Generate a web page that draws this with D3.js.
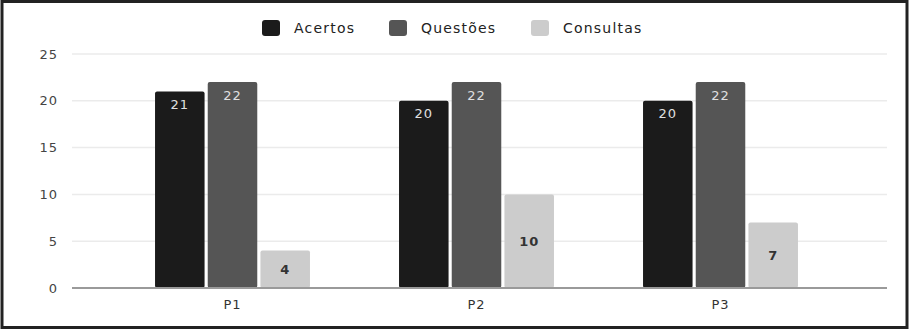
<!DOCTYPE html>
<html>
<head>
<meta charset="utf-8">
<script src="https://cdn.jsdelivr.net/npm/d3@7"></script>
<style>
  html, body { margin: 0; padding: 0; background: #fff; }
  svg { display: block; font-family: "DejaVu Sans", Roboto, sans-serif; }
</style>
</head>
<body>
<div id="chart"></div>
<script>
var categories = ["P1", "P2", "P3"];
var seriesNames = ["Acertos", "Questões", "Consultas"];
var acertos = [21, 20, 20];
var questoes = [22, 22, 22];
var consultas = [4, 10, 7];
var yTicks = [0, 5, 10, 15, 20, 25];

var colors = ["#1b1b1b", "#555555", "#cccccc"];
var labelColors = ["#e0e0e0", "#e0e0e0", "#333333"];

var width = 909, height = 330;
var margin = { top: 54, right: 22, bottom: 42, left: 72 };

var data = categories.map(function (c, i) {
    return { cat: c, values: [acertos[i], questoes[i], consultas[i]] };
});

var svg = d3.select("#chart").append("svg")
    .attr("width", width)
    .attr("height", height);

// outer frame
svg.append("rect")
    .attr("x", 2).attr("y", 1.5)
    .attr("width", width - 4).attr("height", height - 4)
    .attr("fill", "#fff")
    .attr("stroke", "#222")
    .attr("stroke-width", 3);

// bars sit a little left of the plot centre in the original
var x0 = d3.scaleBand()
    .domain(categories)
    .range([margin.left - 3, width - margin.right - 3])
    .paddingInner(0.365)
    .paddingOuter(0.3526);

var x1 = d3.scaleBand()
    .domain(seriesNames)
    .range([0, x0.bandwidth()])
    .paddingInner(0.06);

var y = d3.scaleLinear()
    .domain([0, 25])
    .range([height - margin.bottom, margin.top]);

// gridlines
svg.append("g")
    .selectAll("line")
    .data(yTicks.filter(function (d) { return d > 0; }))
    .enter().append("line")
    .attr("x1", margin.left)
    .attr("x2", width - margin.right)
    .attr("y1", function (d) { return y(d); })
    .attr("y2", function (d) { return y(d); })
    .attr("stroke", "#ebebeb")
    .attr("stroke-width", 1.5);

// y axis labels
var yAxis = svg.append("g")
    .attr("transform", "translate(" + margin.left + ",0)")
    .call(d3.axisLeft(y).tickValues(yTicks).tickSize(0).tickPadding(14));
yAxis.select(".domain").remove();
yAxis.selectAll("text")
    .attr("fill", "#444")
    .style("font-family", "'DejaVu Sans', sans-serif")
    .style("letter-spacing", "1px")
    .style("font-size", "13px");

// bars
var groups = svg.append("g")
    .selectAll("g")
    .data(data)
    .enter().append("g")
    .attr("transform", function (d) { return "translate(" + x0(d.cat) + ",0)"; });

groups.selectAll("rect")
    .data(function (d) {
        return d.values.map(function (v, k) { return { key: seriesNames[k], k: k, v: v }; });
    })
    .enter().append("rect")
    .attr("x", function (d) { return x1(d.key); })
    .attr("y", function (d) { return y(d.v); })
    .attr("width", x1.bandwidth())
    .attr("height", function (d) { return y(0) - y(d.v); })
    .attr("rx", 2)
    .attr("fill", function (d) { return colors[d.k]; });

groups.selectAll("text")
    .data(function (d) {
        return d.values.map(function (v, k) { return { key: seriesNames[k], k: k, v: v }; });
    })
    .enter().append("text")
    .attr("x", function (d) { return x1(d.key) + x1.bandwidth() / 2; })
    .attr("y", function (d) {
        if (d.k === 2) return (y(d.v) + y(0)) / 2;
        return y(d.v) + 13;
    })
    .attr("dy", "0.35em")
    .attr("text-anchor", "middle")
    .attr("fill", function (d) { return labelColors[d.k]; })
    .style("font-size", "13px")
    .style("letter-spacing", "1px")
    .style("font-weight", function (d) { return d.k === 2 ? "bold" : "normal"; })
    .text(function (d) { return d.v; });

// baseline + x axis labels
var xAxis = svg.append("g")
    .attr("transform", "translate(0," + y(0) + ")")
    .call(d3.axisBottom(x0).tickSize(0).tickPadding(12));
xAxis.select(".domain")
    .attr("d", "M" + margin.left + ",0H" + (width - margin.right))
    .attr("stroke", "#9a9a9a")
    .attr("stroke-width", 2);
xAxis.selectAll("text")
    .attr("fill", "#333")
    .style("font-family", "'DejaVu Sans', sans-serif")
    .style("letter-spacing", "1px")
    .style("font-size", "13px");

// legend
var legendX = [262, 389, 531];
var legend = svg.append("g")
    .selectAll("g")
    .data(seriesNames)
    .enter().append("g")
    .attr("transform", function (d, i) { return "translate(" + legendX[i] + ",20)"; });
legend.append("rect")
    .attr("width", 18).attr("height", 16)
    .attr("rx", 3)
    .attr("fill", function (d, i) { return colors[i]; });
legend.append("text")
    .attr("x", 32).attr("y", 8)
    .attr("dy", "0.35em")
    .attr("fill", "#222")
    .style("font-size", "14px")
    .style("letter-spacing", "1.2px")
    .text(function (d) { return d; });
</script>
</body>
</html>
